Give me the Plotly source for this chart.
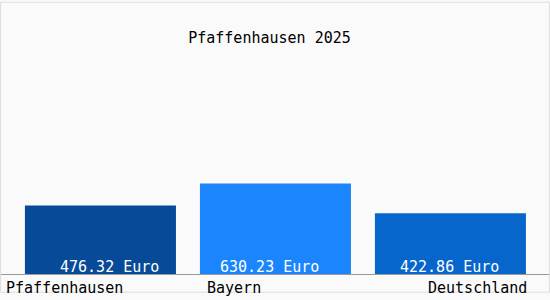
import plotly.graph_objects as go

categories = ["Pfaffenhausen", "Bayern", "Deutschland"]
values = [476.32, 630.23, 422.86]
value_labels = ["476.32 Euro", "630.23 Euro", "422.86 Euro"]
bar_colors = ["#074A97", "#1A85FD", "#0766CC"]
title = "Pfaffenhausen 2025"

FONT = "DejaVu Sans Mono, Liberation Mono, monospace"

fig = go.Figure()
fig.add_trace(go.Bar(
    x=categories, y=values,
    marker=dict(color=bar_colors, line=dict(width=0)),
    width=0.863, cliponaxis=False,
))

fig.update_layout(
    width=550, height=300,
    margin=dict(l=0, r=0, t=60, b=26),
    paper_bgcolor="#FAFAFA", plot_bgcolor="#FAFAFA",
    showlegend=False,
    title=dict(text=title, x=0.49, xanchor="center", y=0.873, yanchor="middle",
               font=dict(family=FONT, size=15, color="black")),
    xaxis=dict(showticklabels=False, showgrid=False, zeroline=False,
               showline=True, linecolor="#999999", linewidth=1,
               range=[-0.574, 2.569], fixedrange=True),
    yaxis=dict(visible=False, range=[0, 1489], showgrid=False, zeroline=False),
    shapes=[dict(type="rect", xref="paper", yref="paper", x0=0.001, y0=-0.085,
                 x1=0.999, y1=1.27, line=dict(color="#DDDDDD", width=1))],
)

label_shift = [9, -6, -1]
for cat, lab, dx in zip(categories, value_labels, label_shift):
    fig.add_annotation(text=lab, x=cat, y=0, xref="x", yref="y",
                       xanchor="center", yanchor="bottom", yshift=-4, xshift=dx,
                       showarrow=False,
                       font=dict(family=FONT, size=15, color="white"))

anchors = ["left", "left", "right"]
xpos = [4 / 550, 205 / 550, 529 / 550]
for cat, anc, xp in zip(categories, anchors, xpos):
    fig.add_annotation(text=cat, xref="paper", yref="paper", x=xp, y=-0.013,
                       xanchor=anc, yanchor="top", showarrow=False,
                       font=dict(family=FONT, size=15, color="black"))

fig.write_html("out.html")
